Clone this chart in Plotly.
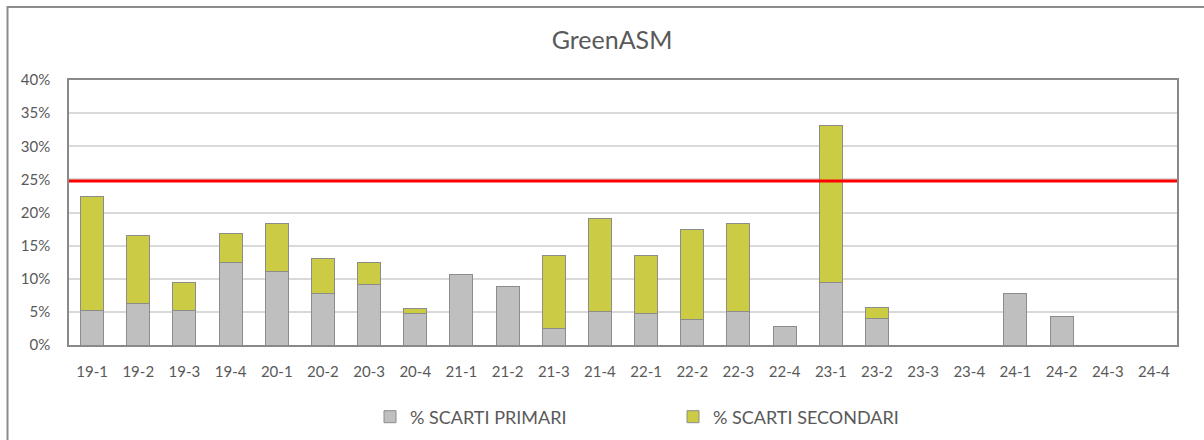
import plotly.graph_objects as go

categories = ["19-1", "19-2", "19-3", "19-4", "20-1", "20-2", "20-3", "20-4",
              "21-1", "21-2", "21-3", "21-4", "22-1", "22-2", "22-3", "22-4",
              "23-1", "23-2", "23-3", "23-4", "24-1", "24-2", "24-3", "24-4"]
scarti_primari = [5.2, 6.2, 5.2, 12.4, 11.1, 7.8, 9.2, 4.8,
                  10.6, 8.8, 2.5, 5.0, 4.8, 3.9, 5.0, 2.8,
                  9.5, 4.0, 0, 0, 7.8, 4.3, 0, 0]
scarti_totali = [22.4, 16.5, 9.5, 16.8, 18.4, 13.1, 12.5, 5.5,
                 10.6, 8.8, 13.5, 19.1, 13.5, 17.4, 18.4, 2.8,
                 33.1, 5.7, 0, 0, 7.8, 4.3, 0, 0]
scarti_secondari = [round(t - p, 2) for t, p in zip(scarti_totali, scarti_primari)]
soglia = 24.75
y_ticks = [0, 5, 10, 15, 20, 25, 30, 35, 40]

FONT = "Lato, 'Open Sans', sans-serif"
TXT = "#595959"
W, H = 1204, 440
L, R, T, B = 69, 1177, 80, 345

fig = go.Figure()
fig.add_trace(go.Bar(
    x=categories, y=[v / 100 for v in scarti_primari], name="% SCARTI PRIMARI",
    marker=dict(color="#BFBFBF", line=dict(color="#8C8C8C", width=1)),
))
fig.add_trace(go.Bar(
    x=categories, y=[v / 100 for v in scarti_secondari], name="% SCARTI SECONDARI",
    marker=dict(color="#CCCC44", line=dict(color="#8C8C8C", width=1)),
))

fig.add_shape(type="line", xref="paper", yref="y", x0=0, x1=1,
              y0=soglia / 100, y1=soglia / 100,
              line=dict(color="#FF0000", width=3), layer="above")


def px_x(px):
    return (px - L) / (R - L)


def px_y(py):
    return (B - py) / (B - T)


fig.add_shape(type="rect", xref="paper", yref="paper",
              x0=px_x(7.5), x1=px_x(1220), y0=px_y(460), y1=px_y(7),
              line=dict(color="#8C8C8C", width=2), fillcolor="rgba(0,0,0,0)")

fig.update_layout(
    width=W, height=H,
    barmode="stack", bargap=0.5,
    paper_bgcolor="white", plot_bgcolor="white",
    margin=dict(l=L, r=W - R, t=T, b=H - B, autoexpand=False),
    font=dict(family=FONT, size=15, color=TXT),
    title=dict(text="GreenASM", x=612 / W, xanchor="center", y=1 - 40 / H, yanchor="middle",
               font=dict(family=FONT, size=25, color=TXT)),
    legend=dict(orientation="h", x=px_x(370), xanchor="left", y=px_y(417), yanchor="middle",
                entrywidth=258, entrywidthmode="pixels",
                font=dict(family=FONT, size=18, color=TXT),
                itemwidth=30, traceorder="normal"),
    showlegend=True,
)
fig.update_xaxes(type="category", showline=True, linecolor="#898989", linewidth=1.5, mirror=True,
                 ticks="", tickfont=dict(size=15, color=TXT), ticklabelstandoff=12)
fig.update_yaxes(range=[0, 0.40], tickvals=[v / 100 for v in y_ticks],
                 ticktext=[f"{v}%" for v in y_ticks],
                 showgrid=True, gridcolor="#D9D9D9", gridwidth=1.5,
                 showline=True, linecolor="#898989", linewidth=1.5, mirror=True,
                 zeroline=False, tickfont=dict(size=15, color=TXT), ticklabelstandoff=14)

fig.write_html("out.html", config={"displayModeBar": False},
               post_script="document.body.style.margin='0';document.body.style.padding='0';")
